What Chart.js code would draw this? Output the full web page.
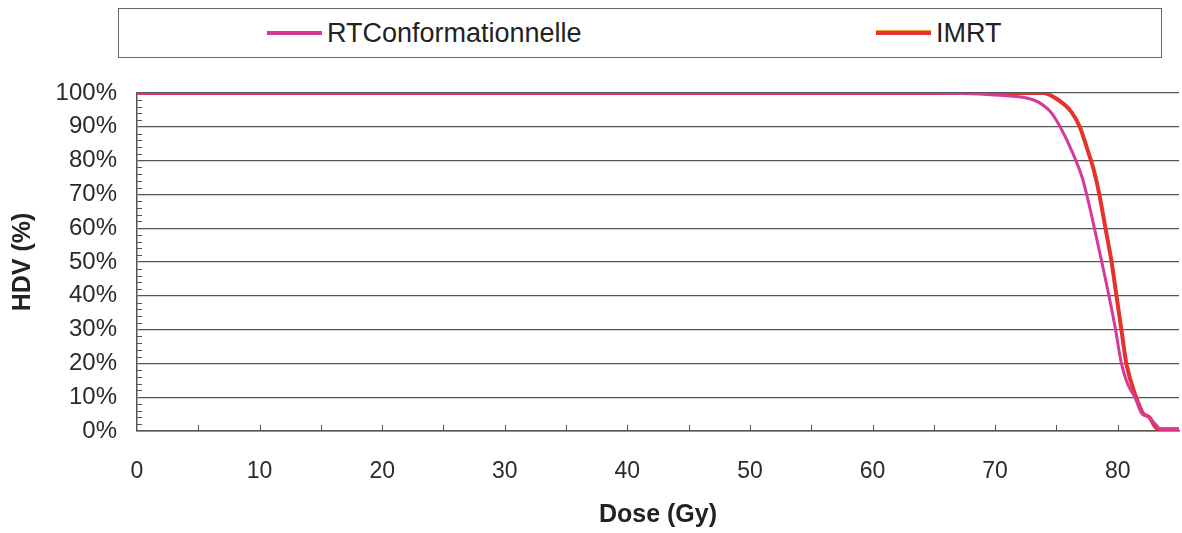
<!DOCTYPE html>
<html>
<head>
<meta charset="utf-8">
<script src="https://cdn.jsdelivr.net/npm/chart.js@4.4.1/dist/chart.umd.min.js"></script>
<style>
  html, body { margin: 0; padding: 0; background: #ffffff; }
  #wrap { position: relative; width: 1182px; height: 533px; font-family: "Liberation Sans", Arial, sans-serif; }
  #legend { position: absolute; left: 118px; top: 8px; width: 1044px; height: 50px; border: 1.5px solid #666; box-sizing: border-box; background: #fff; }
  .item { position: absolute; top: 9px; font-size: 27px; color: #222; line-height: 30px; white-space: nowrap; }
  .sw { display: inline-block; width: 55px; height: 4px; vertical-align: middle; margin-right: 5px; position: relative; top: -2px; }
  canvas { position: absolute; left: 0; top: 0; }
</style>
</head>
<body>
<div id="wrap">
  <canvas id="c" width="1182" height="533"></canvas>
  <div id="legend">
    <div class="item" style="left:148px"><span class="sw" style="background:#d7399a"></span>RTConformationnelle</div>
    <div class="item" style="left:757px"><span class="sw" style="background:#e5322a;box-shadow:0 -1px 0 #f2a23a"></span>IMRT</div>
  </div>
</div>
<script>
// Data (dose in Gy, HDV in %)
const seriesNames = ["RTConformationnelle", "IMRT"];
const rtDose = [0, 10, 20, 30, 40, 50, 60, 65, 68, 70.4, 73.1, 74.5, 75.3, 76.3, 77.1, 77.6, 78.1, 78.7, 79.2, 79.8, 80.3, 80.8, 81.4, 82.0, 82.4, 83.2, 83.5, 85];
const rtHdv  = [100, 100, 100, 100, 100, 100, 100, 100, 99.8, 99.3, 98, 94.5, 90, 82.5, 75, 68, 60, 50, 41.5, 30.5, 20, 14, 10, 5, 4.5, 1.5, 0.5, 0.5];
const imDose = [0, 10, 20, 30, 40, 50, 60, 70, 73.9, 75.0, 76.2, 76.9, 77.6, 78.1, 78.5, 79.0, 79.5, 79.9, 80.3, 80.7, 81.5, 82.1, 82.4, 82.6, 83.0, 83.4, 85];
const imHdv  = [100, 100, 100, 100, 100, 100, 100, 100, 100, 98.3, 94.5, 90, 82.5, 76.5, 70, 60, 50, 40, 30, 20, 10, 5, 4.5, 4, 1.5, 0.5, 0.5];
const xTicks = [0, 10, 20, 30, 40, 50, 60, 70, 80];
const yTicks = [0, 10, 20, 30, 40, 50, 60, 70, 80, 90, 100];

const toPts = (xs, ys) => xs.map((x, i) => ({ x: x, y: ys[i] }));

const minorTicks = {
  id: 'minorTicks',
  afterDraw(chart) {
    const ctx = chart.ctx;
    const xs = chart.scales.x, ys = chart.scales.y;
    ctx.save();
    ctx.strokeStyle = '#555';
    ctx.lineWidth = 1;
    ctx.beginPath();
    for (let v = 5; v < xs.max; v += 5) {
      const px = Math.round(xs.getPixelForValue(v)) + 0.5;
      ctx.moveTo(px, ys.bottom);
      ctx.lineTo(px, ys.bottom - 6);
    }
    for (let v = 2; v < 100; v += 2) {
      if (v % 10 === 0) continue;
      const py = Math.round(ys.getPixelForValue(v)) + 0.5;
      ctx.moveTo(xs.left, py);
      ctx.lineTo(xs.left + 5, py);
    }
    ctx.stroke();
    ctx.restore();
  }
};

new Chart(document.getElementById('c'), {
  type: 'line',
  data: {
    datasets: [
      { label: seriesNames[1], data: toPts(imDose, imHdv), borderColor: '#e5322a', borderWidth: 4, pointRadius: 0, cubicInterpolationMode: 'monotone', order: 2 },
      { label: seriesNames[0], data: toPts(rtDose, rtHdv), borderColor: '#d7399a', borderWidth: 3, pointRadius: 0, cubicInterpolationMode: 'monotone', order: 1 }
    ]
  },
  plugins: [minorTicks],
  options: {
    responsive: false,
    animation: false,
    layout: { padding: { top: 93, right: 3, left: 0, bottom: 0 } },
    plugins: { legend: { display: false }, tooltip: { enabled: false } },
    scales: {
      x: {
        type: 'linear', min: 0, max: 85,
        afterBuildTicks: (s) => { s.ticks = xTicks.map(v => ({ value: v })); },
        afterFit: (s) => { s.height = 102; },
        ticks: { font: { family: 'Liberation Sans', size: 23 }, color: '#2a2a2a', padding: 27, maxRotation: 0 },
        grid: { drawOnChartArea: false, drawTicks: false },
        border: { color: '#555', width: 1.5 },
        title: { display: true, text: 'Dose (Gy)', font: { family: 'Liberation Sans', size: 25, weight: 'bold' }, color: '#222', padding: { top: 0, bottom: 3 } }
      },
      y: {
        min: 0, max: 100,
        afterBuildTicks: (s) => { s.ticks = yTicks.map(v => ({ value: v })); },
        afterFit: (s) => { s.width = 137; },
        ticks: { font: { family: 'Liberation Sans', size: 24 }, color: '#2a2a2a', padding: 20, callback: v => v + '%' },
        grid: { color: '#555', lineWidth: 1.2, drawTicks: false },
        border: { color: '#555', width: 1.5 },
        title: { display: true, text: 'HDV (%)', font: { family: 'Liberation Sans', size: 25, weight: 'bold' }, color: '#222', padding: { top: 8, bottom: 0 } }
      }
    }
  }
});
</script>
</body>
</html>
